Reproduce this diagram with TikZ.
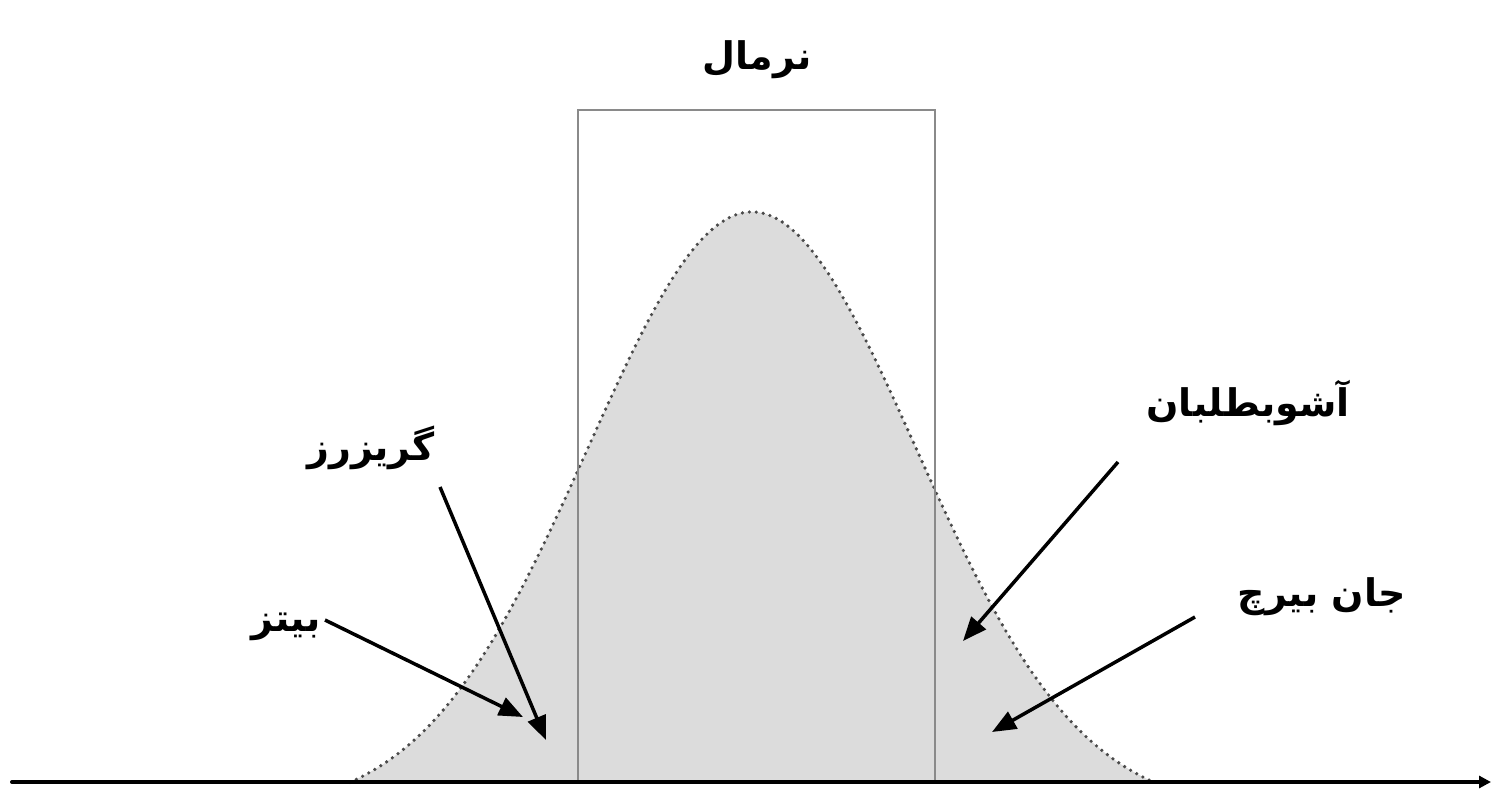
\documentclass[tikz,border=0pt]{standalone}
\usepackage{fontspec}
\usetikzlibrary{arrows.meta}
\TeXXeTstate=1
\newfontfamily\fafont[Script=Arabic]{DejaVu Sans}
\definecolor{curvefill}{HTML}{DCDCDC}
\definecolor{curvedot}{HTML}{4A4A4A}
\definecolor{boxline}{HTML}{8A8A8A}
\tikzset{
  lbl/.style={font=\fafont\bfseries\fontsize{38}{44}\selectfont, inner sep=0pt},
  pointer/.style={line width=3.5pt, -{Triangle[length=24pt,width=19pt]}},
}
\begin{document}
\begin{tikzpicture}[x=1pt,y=-1pt]
\useasboundingbox[fill=white] (0,0) rectangle (1492,789);
% bell curve
\fill[curvefill] plot[domain=350:1154,samples=200] (\x,{782-600*(exp(-0.5*((\x-752)/164)^2)-0.05)}) -- cycle;
\draw[curvedot, line width=3.6pt, dash pattern=on 0pt off 7pt, line cap=round]
  plot[domain=350:1154,samples=200] (\x,{782-600*(exp(-0.5*((\x-752)/164)^2)-0.05)});
% box
\draw[boxline, line width=2.2pt] (578,782) -- (578,110) -- (935,110) -- (935,782);
% axis
\coordinate (axL) at (12,782);
\coordinate (axR) at (1491,782);
\draw[line width=4pt, line cap=round, -{Triangle[length=12pt,width=12pt]}] (axL) -- (axR);
% labels
\node[lbl] (normal) at (757,60) {\beginR نرمال\endR};
\node[lbl] (ashub) at (1248,403) {\beginR آشوبطلبان\endR};
\node[lbl] (griz) at (371,448) {\beginR گریزرز\endR};
\node[lbl] (bitz) at (286,627) {\beginR بیتز\endR};
\node[lbl] (jan) at (1322,597) {\beginR جان بیرچ\endR};
% pointers
\coordinate (grizS) at (440,487);
\coordinate (grizT) at (546,740);
\coordinate (bitzS) at (325,620);
\coordinate (bitzT) at (523,717);
\coordinate (ashS) at (1118,462);
\coordinate (ashT) at (963,641);
\coordinate (janS) at (1195,617);
\coordinate (janT) at (992,732);
\draw[pointer] (grizS) -- (grizT);
\draw[pointer] (bitzS) -- (bitzT);
\draw[pointer] (ashS) -- (ashT);
\draw[pointer] (janS) -- (janT);
\end{tikzpicture}
\end{document}
